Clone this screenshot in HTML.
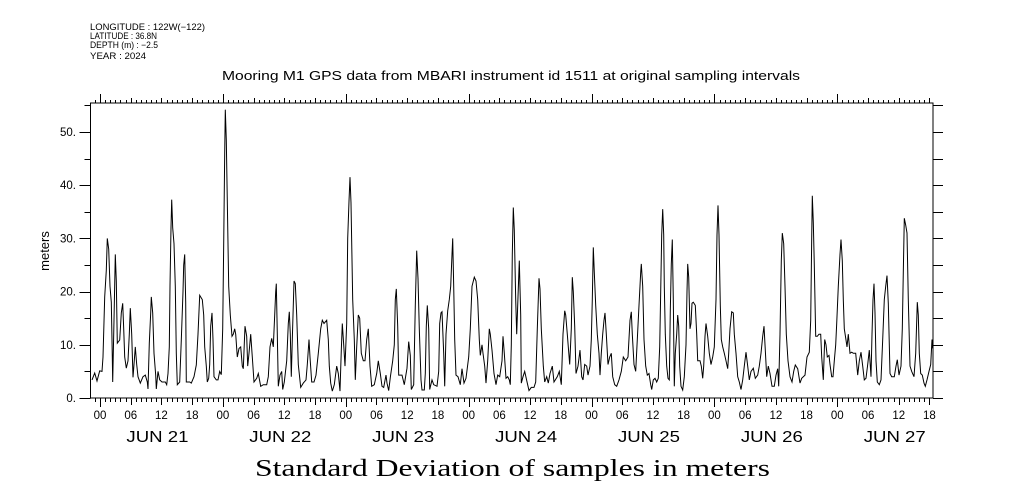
<!DOCTYPE html>
<html><head><meta charset="utf-8">
<style>
html,body{margin:0;padding:0;background:#fff;}
svg{display:block;}
text{font-family:"Liberation Sans",sans-serif;fill:#000;}
</style></head>
<body>
<svg id="chart" width="1009" height="504" viewBox="0 0 1009 504" xmlns="http://www.w3.org/2000/svg">
  <g font-size="9">
    <text x="90" y="30" textLength="115" lengthAdjust="spacingAndGlyphs">LONGITUDE : 122W(−122)</text>
    <text x="90" y="39" textLength="67" lengthAdjust="spacingAndGlyphs">LATITUDE : 36.8N</text>
    <text x="90" y="48" textLength="68" lengthAdjust="spacingAndGlyphs">DEPTH (m) : −2.5</text>
    <text x="90" y="59" textLength="56" lengthAdjust="spacingAndGlyphs">YEAR : 2024</text>
  </g>
  <text x="222" y="80" font-size="13" textLength="578" lengthAdjust="spacingAndGlyphs">Mooring M1 GPS data from MBARI instrument id 1511 at original sampling intervals</text>
  <text transform="translate(49,251) rotate(-90)" font-size="13" text-anchor="middle">meters</text>
  <text x="255" y="476" font-size="24" textLength="515" lengthAdjust="spacingAndGlyphs" style="font-family:'Liberation Serif',serif">Standard Deviation of samples in meters</text>
  <g id="axes"></g>
  <g id="series"></g>
</svg>
<script>
const hours=[-1.56,-1.04,-0.59,-0.06,0.39,0.59,0.92,1.23,1.43,1.7,1.95,2.2,2.4,2.48,2.73,2.99,3.18,3.38,3.85,4.16,4.43,4.63,4.82,5.14,5.47,5.72,5.92,6.19,6.45,6.64,6.89,7.17,7.42,7.87,8.4,8.85,9.24,9.38,9.63,9.9,10.02,10.29,10.55,10.88,11,11.33,11.66,12.11,12.75,13.03,13.28,13.54,13.67,13.87,14,14.2,14.45,14.71,14.9,15.1,15.57,15.88,16.21,16.35,16.54,16.74,16.86,17.52,17.83,18.36,18.81,19.14,19.47,19.98,20.25,20.45,20.76,20.96,21.23,21.43,21.62,21.88,22.07,22.27,22.72,23.05,23.38,23.69,23.96,24.16,24.36,24.47,24.67,24.86,25.14,25.45,25.78,26.04,26.31,26.5,26.82,27.15,27.48,27.79,27.99,28.32,28.65,28.85,29.1,29.43,29.75,30.08,30.6,30.92,31.39,31.9,32.56,32.87,33.2,33.54,33.85,34.12,34.32,34.43,34.63,34.82,35.16,35.49,35.68,36,36.46,36.78,36.97,37.17,37.36,37.56,37.89,38.14,38.42,38.73,39.2,39.71,40.23,40.49,40.82,41.02,41.35,41.8,42.19,42.64,43.11,43.42,43.75,44.28,44.59,44.79,45.06,45.37,45.76,46.23,46.54,46.88,47.13,47.32,47.6,47.85,48.18,48.38,48.63,48.83,49.02,49.36,49.67,49.87,50.14,50.45,50.72,51.04,51.43,51.76,52.09,52.4,52.73,53.07,53.57,54.04,54.36,54.75,55.08,55.41,55.86,56.05,56.39,56.71,57.17,57.48,57.68,57.87,58.14,58.34,58.98,59.43,59.96,60.29,60.61,60.8,61.27,61.58,61.86,62.11,62.36,62.7,62.89,63.34,63.54,63.73,63.93,64.2,64.39,64.84,65.18,65.82,66.15,66.35,66.6,66.8,67.13,67.32,67.58,67.91,68.22,68.5,68.75,68.89,69.08,69.28,69.53,69.92,70.37,70.7,71.09,71.48,72.01,72.32,72.66,73.11,73.44,73.77,74.08,74.28,74.61,74.8,75.14,75.39,75.72,76.04,76.23,76.56,76.95,77.34,77.68,78.07,78.52,78.71,78.96,79.3,79.63,79.94,80.14,80.33,80.53,80.72,80.92,81.19,81.39,81.64,81.9,82.17,82.29,82.62,82.95,83.46,83.79,84.24,84.77,85.1,85.41,85.74,85.94,86.19,86.58,86.86,87.25,87.56,87.89,88.34,88.67,89.32,89.71,90.1,90.43,90.76,90.95,91.27,91.47,91.74,92.05,92.25,92.44,92.71,92.97,93.36,93.75,94.08,94.34,94.67,95.06,95.31,95.7,95.96,96.15,96.35,96.54,96.82,97.13,97.46,97.66,97.91,98.18,98.44,98.63,98.89,99.22,99.55,99.86,100.14,100.53,100.92,101.37,101.82,102.21,102.68,103.13,103.52,103.77,103.96,104.3,104.63,104.94,105.27,105.6,105.72,105.99,106.25,106.58,106.89,107.23,107.56,107.75,108.07,108.4,108.73,109.04,109.32,109.51,109.71,109.9,110.1,110.21,110.41,110.68,110.94,111.19,111.39,111.58,111.78,111.97,112.17,112.36,112.64,112.83,113.03,113.22,113.48,113.81,114.12,114.45,114.65,114.79,114.98,115.23,115.43,115.63,115.88,116.27,116.54,116.74,117.19,117.44,117.71,117.91,118.16,118.36,118.69,119,119.34,119.67,119.98,120.31,120.51,120.7,120.9,121.15,121.35,121.62,121.94,122.27,122.6,122.79,123.05,123.38,123.69,123.89,124.22,124.55,124.86,125.2,125.53,125.84,126.17,126.5,126.82,127.15,127.6,127.99,128.46,128.77,129.1,129.43,129.69,129.94,130.21,130.53,130.86,131.25,131.7,132.03,132.36,132.56,132.81,133.07,133.26,133.54,133.79,134.04,134.38,134.77,135.16,135.49,135.8,136.27,136.72,137.05,137.7,138.09,138.54,138.81,139.01,139.12,139.32,139.51,139.79,140.1,140.43,140.76,140.96,141.27,141.54,141.8,142.05,142.38,142.58,142.91,143.16,143.42,143.69,143.89,144.2,144.53,144.73,144.98,145.18,145.37,145.7,145.9,146.15,146.48,146.81,147.13,147.6,147.99,148.3,148.63,148.96,149.28,149.61,149.94,150.25,150.59,150.78,150.98,151.17,151.37,151.56,151.82,152.21,152.54,152.87,153.18,153.46,153.71,153.96,154.3,154.63,155.14,155.47,155.72,156.05,156.45,156.7,156.89,157.09,157.36,157.62,157.87,158.2,158.53,158.98,159.32,159.63,159.83,160.02,160.29,160.61,160.94,161.19,161.52,161.91,162.25,162.5,162.64];
const meters=[3.4,4.7,3.2,5.1,5,7.7,19,24,30,28,21,18,7.7,3,14.6,27,22,10.3,10.9,16,17.8,13,7.7,5.6,7,12,16.9,12,3.9,6.3,9.6,6.3,4,2.8,4,4.3,3,1.7,10.3,16,19,16,8.4,4.3,1.7,5,3.4,3,3,2.5,4.6,9.6,21,32,37.3,32,29,21,8.4,2.5,3,10.9,20,25,27,18,3,3,2.8,4,6.2,12,19.3,18.5,15.6,9.6,6,3,3.7,6.3,13.5,16,11,4,3.4,3.4,5,4.4,13,29,46,54.2,48.5,37,21,15.6,11.6,12,13,12,7.7,9.3,9.6,6,5.5,13.5,11.6,6,8.4,12,7.7,3,3.7,4.6,2.2,2.5,2.5,4,9.6,11.2,9.6,15.6,20,21.5,12,2.2,4.3,5,1.6,3,7,14,16.2,12,4,11,22,21.5,15.6,6.3,2,2.8,3.4,6.3,11,7.7,3,3,4.3,8.4,13,14.6,14,14.6,11,6,2.8,1.3,2.5,6,4.6,1.3,9,14,10,6,14,30,37,41.5,36.7,18.5,11,3.4,9.6,15.6,15,8.4,7,7,11,13,6,2.2,2.5,4.6,7,4.6,2.2,2,4.3,2.8,1.4,4,7,10,18.5,20.5,13.5,4.3,4.3,2.5,5.6,10.6,8,1.6,2.5,17.4,27.7,22.5,13,3.4,1.5,1.5,4.6,13.5,17.4,13,1.6,3.4,2.5,2.2,5,14,16,16.2,8.4,2.2,12,16.4,18.5,21,27,30,21,11,4.3,4,2.5,5.5,2.8,3.7,7.7,13,21,22.7,22,18.5,11,8,10,8.4,6,2.8,7,13,12,9,4.6,2.5,4.3,4,7,11.6,8.4,3.7,4,3.4,2.5,10,27,35.8,31.5,18.5,12,19,25.8,15.6,2.8,4,5,2.8,1.4,2,2,3,13,22.5,20.5,13,6,3,4,2.8,4.6,6,3,4,5,2.5,12,16.4,15.6,12,9.6,6.3,13,22.7,20,13.5,4.6,6,9,4,3.4,6.3,6,4.3,6,11,18.5,28.3,23.6,17.4,12,8.4,4.3,8.4,12,14.6,16,12,6.3,7.7,8.4,4,2.5,2.2,3.4,5,7.7,7,7.7,14.6,16.2,12,6.3,5,11,17.4,23.6,25.2,21,11,6,4.3,4.6,2.5,1.6,3.4,3.7,3,3.7,9.6,20,30.7,35.5,30.7,21,12,6,3.7,3.4,16.4,25.2,29.8,18.5,2.2,8.4,12,15.6,13.5,6,2.2,1.5,4,10,20,25.2,22.7,13,14,17.8,18,17.4,12,7,7,6,3.7,6,11.6,14,11.6,8.4,6.3,7.7,9.6,18.5,30.7,36.2,30.7,17.4,11,9.6,8.4,7,5.5,8.4,13,16.2,16,12,8.4,4,3,1.6,3.4,6,8.6,6,3.4,5,5.6,3.7,4.3,6,8.4,11.6,13.5,9,4,6,4.6,2.2,2.2,4.3,5.5,2.2,12,25.8,31,29,21,12,7,4,3,5,6.2,5.5,2.8,3.7,4.3,7.7,8.6,14.6,30,38,33,25,11.6,11.6,12,12,7.7,3.4,11,10,7.7,8,6.3,4,4,7,10,14,21,27,29.8,25.8,18.5,13,10.9,9.6,12,8.4,8.6,8.4,8.4,4.3,7,8.6,6,3.4,3.7,6.3,9,4,12,18.5,21.5,16,7,3,2.5,3.4,11,18.5,21,23,17.8,4.6,4,4,6,7.2,4.3,6,13,23.6,33.8,32.5,31,18.5,6,5,4,8.4,18,15.6,8.4,4.6,4.3,2.8,2.2,3.4,5,6.3,11,9.3];
const yTickValues=[0,10,20,30,40,50];
const yTickLabels=["0.","10.","20.","30.","40.","50."];
const hourLabels=["00","06","12","18"];
const dayLabels=["JUN 21","JUN 22","JUN 23","JUN 24","JUN 25","JUN 26","JUN 27"];

const L=90.5,R=933,T=103,B=398;
const H0=100,PXH=5.12,PXV=5.32;
function xs(h){return H0+h*PXH;}
function ys(v){return B-v*PXV;}
const NS="http://www.w3.org/2000/svg";
const axes=document.getElementById('axes');
function mk(tag,attrs,parent){const e=document.createElementNS(NS,tag);for(const k in attrs)e.setAttribute(k,attrs[k]);(parent||axes).appendChild(e);return e;}

const frame=mk('rect',{x:L,y:T,width:R-L,height:B-T,fill:'none',stroke:'#000','stroke-width':1});



for(let v=0;v<=55;v+=5){
  const major=v%10===0;
  const y=Math.round(ys(v))+0.5;
  const t1=mk('line',{x1:L-(major?11:6),x2:L,y1:y,y2:y,stroke:'#000'});
  
  
  const t2=mk('line',{x1:R,x2:R+10,y1:y,y2:y,stroke:'#000'});
  
  
}
yTickValues.forEach((v,i)=>{
  const t=mk('text',{x:76,y:ys(v)+4,'font-size':11.5,'text-anchor':'end'});
  t.textContent=yTickLabels[i];
  
  
});
for(let h=-1;h<=162;h++){
  const x=Math.round(xs(h))+0.5;
  if(x<L||x>R)continue;
  const day=h%24===0, six=h%6===0;
  const lenB=day?9:(six?7:4), lenT=day?9:(six?5:3);
  const tb=mk('line',{x1:x,x2:x,y1:B,y2:B+lenB,stroke:'#000'});
  
  
  const tt=mk('line',{x1:x,x2:x,y1:T-lenT,y2:T,stroke:'#000'});
  
  
  if(six){
    const lb=mk('text',{x:xs(h),y:419,'font-size':11.5,'text-anchor':'middle'});
    lb.textContent=hourLabels[((h%24)+24)%24/6];
    
    
  }
}
dayLabels.forEach((d,i)=>{
  const cx=xs(i*24+12)-4;
  const t=mk('text',{x:cx-31,y:442,'font-size':16,textLength:62,lengthAdjust:'spacingAndGlyphs'});
  t.textContent=d;
  
  
});
const pts=hours.map((h,i)=>xs(h).toFixed(1)+','+ys(meters[i]).toFixed(1)).join(' ');
const line=mk('polyline',{points:pts,fill:'none',stroke:'#000','stroke-width':1,'stroke-linejoin':'miter'},document.getElementById('series'));


</script>
</body></html>
